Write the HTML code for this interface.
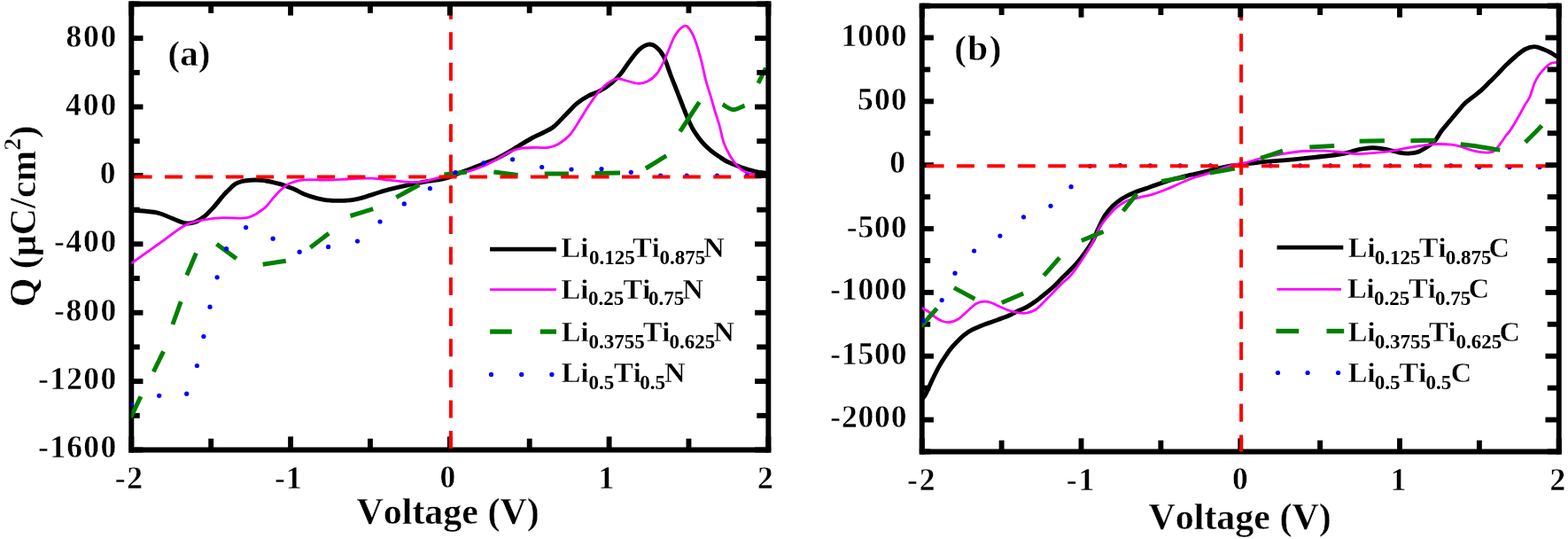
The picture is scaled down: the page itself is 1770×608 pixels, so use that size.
<!DOCTYPE html>
<html><head><meta charset="utf-8"><title>Q-V curves</title>
<style>html,body{margin:0;padding:0;background:#fff;} svg{display:block;}
text{font-family:'Liberation Serif', 'Times New Roman', serif;font-weight:bold;fill:#000;font-kerning:none;stroke:#fff;stroke-width:0.4px;}</style></head>
<body><svg width="1770" height="608" viewBox="0 0 1770 608">
<rect width="1770" height="608" fill="#fff"/>
<line x1="148.30" y1="1.50" x2="148.30" y2="510.45" stroke="#000" stroke-width="5.9"/>
<line x1="145.35" y1="507.50" x2="870.30" y2="507.50" stroke="#000" stroke-width="5.9"/>
<line x1="148.30" y1="507.50" x2="148.30" y2="492.45" stroke="#000" stroke-width="5.9"/>
<line x1="238.18" y1="507.50" x2="238.18" y2="494.75" stroke="#000" stroke-width="5.9"/>
<line x1="328.06" y1="507.50" x2="328.06" y2="492.45" stroke="#000" stroke-width="5.9"/>
<line x1="417.94" y1="507.50" x2="417.94" y2="494.75" stroke="#000" stroke-width="5.9"/>
<line x1="507.82" y1="507.50" x2="507.82" y2="492.45" stroke="#000" stroke-width="5.9"/>
<line x1="597.71" y1="507.50" x2="597.71" y2="494.75" stroke="#000" stroke-width="5.9"/>
<line x1="687.59" y1="507.50" x2="687.59" y2="492.45" stroke="#000" stroke-width="5.9"/>
<line x1="777.47" y1="507.50" x2="777.47" y2="494.75" stroke="#000" stroke-width="5.9"/>
<line x1="867.35" y1="507.50" x2="867.35" y2="492.45" stroke="#000" stroke-width="5.9"/>
<line x1="148.30" y1="507.50" x2="161.45" y2="507.50" stroke="#000" stroke-width="5.9"/>
<line x1="148.30" y1="468.80" x2="157.75" y2="468.80" stroke="#000" stroke-width="5.9"/>
<line x1="148.30" y1="430.11" x2="161.45" y2="430.11" stroke="#000" stroke-width="5.9"/>
<line x1="148.30" y1="391.41" x2="157.75" y2="391.41" stroke="#000" stroke-width="5.9"/>
<line x1="148.30" y1="352.72" x2="161.45" y2="352.72" stroke="#000" stroke-width="5.9"/>
<line x1="148.30" y1="314.02" x2="157.75" y2="314.02" stroke="#000" stroke-width="5.9"/>
<line x1="148.30" y1="275.32" x2="161.45" y2="275.32" stroke="#000" stroke-width="5.9"/>
<line x1="148.30" y1="236.63" x2="157.75" y2="236.63" stroke="#000" stroke-width="5.9"/>
<line x1="148.30" y1="197.93" x2="161.45" y2="197.93" stroke="#000" stroke-width="5.9"/>
<line x1="148.30" y1="159.23" x2="157.75" y2="159.23" stroke="#000" stroke-width="5.9"/>
<line x1="148.30" y1="120.54" x2="161.45" y2="120.54" stroke="#000" stroke-width="5.9"/>
<line x1="148.30" y1="81.84" x2="157.75" y2="81.84" stroke="#000" stroke-width="5.9"/>
<line x1="148.30" y1="43.15" x2="161.45" y2="43.15" stroke="#000" stroke-width="5.9"/>
<line x1="148.30" y1="4.45" x2="157.75" y2="4.45" stroke="#000" stroke-width="5.9"/>
<line x1="1040.75" y1="3.65" x2="1040.75" y2="512.40" stroke="#000" stroke-width="5.9"/>
<line x1="1037.80" y1="509.45" x2="1762.70" y2="509.45" stroke="#000" stroke-width="5.9"/>
<line x1="1040.75" y1="509.45" x2="1040.75" y2="494.40" stroke="#000" stroke-width="5.9"/>
<line x1="1130.62" y1="509.45" x2="1130.62" y2="496.70" stroke="#000" stroke-width="5.9"/>
<line x1="1220.50" y1="509.45" x2="1220.50" y2="494.40" stroke="#000" stroke-width="5.9"/>
<line x1="1310.38" y1="509.45" x2="1310.38" y2="496.70" stroke="#000" stroke-width="5.9"/>
<line x1="1400.25" y1="509.45" x2="1400.25" y2="494.40" stroke="#000" stroke-width="5.9"/>
<line x1="1490.12" y1="509.45" x2="1490.12" y2="496.70" stroke="#000" stroke-width="5.9"/>
<line x1="1580.00" y1="509.45" x2="1580.00" y2="494.40" stroke="#000" stroke-width="5.9"/>
<line x1="1669.88" y1="509.45" x2="1669.88" y2="496.70" stroke="#000" stroke-width="5.9"/>
<line x1="1759.75" y1="509.45" x2="1759.75" y2="494.40" stroke="#000" stroke-width="5.9"/>
<line x1="1040.75" y1="509.45" x2="1050.20" y2="509.45" stroke="#000" stroke-width="5.9"/>
<line x1="1040.75" y1="473.53" x2="1053.90" y2="473.53" stroke="#000" stroke-width="5.9"/>
<line x1="1040.75" y1="437.61" x2="1050.20" y2="437.61" stroke="#000" stroke-width="5.9"/>
<line x1="1040.75" y1="401.70" x2="1053.90" y2="401.70" stroke="#000" stroke-width="5.9"/>
<line x1="1040.75" y1="365.78" x2="1050.20" y2="365.78" stroke="#000" stroke-width="5.9"/>
<line x1="1040.75" y1="329.86" x2="1053.90" y2="329.86" stroke="#000" stroke-width="5.9"/>
<line x1="1040.75" y1="293.94" x2="1050.20" y2="293.94" stroke="#000" stroke-width="5.9"/>
<line x1="1040.75" y1="258.02" x2="1053.90" y2="258.02" stroke="#000" stroke-width="5.9"/>
<line x1="1040.75" y1="222.11" x2="1050.20" y2="222.11" stroke="#000" stroke-width="5.9"/>
<line x1="1040.75" y1="186.19" x2="1053.90" y2="186.19" stroke="#000" stroke-width="5.9"/>
<line x1="1040.75" y1="150.27" x2="1050.20" y2="150.27" stroke="#000" stroke-width="5.9"/>
<line x1="1040.75" y1="114.35" x2="1053.90" y2="114.35" stroke="#000" stroke-width="5.9"/>
<line x1="1040.75" y1="78.44" x2="1050.20" y2="78.44" stroke="#000" stroke-width="5.9"/>
<line x1="1040.75" y1="42.52" x2="1053.90" y2="42.52" stroke="#000" stroke-width="5.9"/>
<line x1="1040.75" y1="6.60" x2="1050.20" y2="6.60" stroke="#000" stroke-width="5.9"/>
<g clip-path="url(#c1)">
<path d="M148.0,237.0 C152.8,237.5 169.4,238.3 177.1,239.9 C184.8,241.5 188.8,244.3 194.2,246.3 C199.5,248.3 204.9,251.0 209.2,251.7 C213.5,252.4 216.3,251.8 219.9,250.6 C223.5,249.3 227.0,247.0 230.6,244.2 C234.2,241.3 237.7,237.4 241.3,233.5 C244.9,229.6 248.9,224.1 252.0,220.6 C255.1,217.1 257.7,214.6 260.0,212.4 C262.3,210.2 263.5,208.6 265.8,207.3 C268.1,206.0 270.9,205.1 273.8,204.4 C276.7,203.7 279.6,203.4 283.0,203.2 C286.4,203.0 291.7,203.1 294.5,203.2 C297.3,203.3 297.7,203.6 300.0,204.0 C302.3,204.4 305.5,205.0 308.2,205.6 C310.9,206.2 313.6,206.9 316.4,207.7 C319.1,208.5 321.9,209.6 324.7,210.6 C327.4,211.6 330.2,212.6 332.9,213.8 C335.6,215.0 338.4,216.8 341.1,218.0 C343.8,219.2 346.6,220.2 349.3,221.2 C352.1,222.1 354.9,223.0 357.6,223.7 C360.4,224.4 363.1,225.0 365.8,225.4 C368.5,225.8 371.3,226.0 374.0,226.2 C376.7,226.4 379.4,226.4 382.2,226.4 C384.9,226.4 387.8,226.4 390.5,226.2 C393.2,226.0 396.0,225.8 398.7,225.4 C401.4,225.0 404.2,224.4 406.9,223.7 C409.6,223.0 412.9,221.9 415.1,221.2 C417.3,220.5 417.6,220.4 420.0,219.6 C422.4,218.8 426.4,217.5 429.6,216.5 C432.9,215.5 434.6,214.8 439.5,213.6 C444.4,212.4 452.6,210.5 459.2,209.1 C465.8,207.7 472.4,206.3 479.0,205.2 C485.6,204.0 493.8,203.2 498.7,202.2 C503.6,201.2 504.1,200.9 508.6,199.3 C513.1,197.7 519.6,194.8 525.6,192.5 C531.6,190.2 538.7,187.6 544.8,185.2 C550.9,182.8 556.3,180.9 562.0,178.1 C567.7,175.3 572.8,172.2 579.1,168.5 C585.4,164.8 594.4,159.1 600.0,156.0 C605.6,152.9 608.3,152.2 612.5,150.0 C616.7,147.8 620.7,146.4 625.0,143.0 C629.3,139.6 634.1,133.9 638.5,129.5 C642.9,125.1 647.0,120.2 651.3,116.6 C655.6,113.0 659.9,110.4 664.2,108.1 C668.5,105.8 672.7,105.0 677.0,102.7 C681.3,100.4 685.9,97.4 689.8,94.2 C693.7,91.0 696.9,87.8 700.5,83.5 C704.1,79.2 707.6,73.1 711.2,68.5 C714.8,63.9 718.4,58.8 721.9,55.7 C725.4,52.6 729.1,50.6 732.2,50.1 C735.3,49.6 737.6,50.5 740.5,52.8 C743.4,55.1 746.5,58.5 749.3,63.8 C752.0,69.1 754.4,77.7 757.0,84.5 C759.6,91.3 762.6,98.6 765.0,104.8 C767.4,111.0 769.6,116.8 771.6,121.8 C773.6,126.8 775.0,130.6 776.8,134.5 C778.5,138.4 780.2,142.2 782.1,145.5 C784.0,148.8 785.9,151.6 788.0,154.5 C790.1,157.4 792.5,160.4 795.0,163.0 C797.5,165.6 800.2,168.0 803.0,170.3 C805.8,172.6 809.0,174.8 812.0,176.8 C815.0,178.8 817.1,180.5 821.2,182.5 C825.4,184.5 831.7,186.9 836.9,188.8 C842.1,190.6 847.6,192.3 852.5,193.4 C857.4,194.5 863.8,195.2 866.0,195.5" fill="none" stroke="#000" stroke-width="4.9"/>
<path d="M148.2,297.0 C153.5,293.2 169.8,281.7 180.0,274.5 C190.2,267.3 200.8,258.4 209.2,254.0 C217.6,249.6 223.5,249.4 230.6,248.0 C237.7,246.6 245.2,245.9 252.0,245.6 C258.8,245.3 266.7,246.3 271.5,246.2 C276.3,246.1 277.8,246.0 280.7,245.2 C283.6,244.4 286.6,242.7 288.8,241.5 C291.0,240.3 292.1,239.3 294.0,238.0 C295.9,236.7 297.6,236.0 300.0,233.6 C302.4,231.2 305.5,226.8 308.2,223.7 C310.9,220.5 313.6,217.3 316.4,214.7 C319.1,212.1 321.9,209.8 324.7,208.1 C327.4,206.4 330.2,205.6 332.9,204.8 C335.6,204.0 338.2,203.6 341.1,203.2 C344.0,202.8 345.7,202.6 350.0,202.6 C354.3,202.6 361.1,203.0 367.0,203.0 C372.9,203.0 380.1,202.6 385.6,202.4 C391.1,202.2 394.3,201.8 400.0,201.6 C405.7,201.4 413.1,200.9 419.7,201.2 C426.3,201.5 432.9,202.5 439.5,203.2 C446.1,203.9 454.3,204.8 459.2,205.2 C464.1,205.6 465.8,205.8 469.1,205.7 C472.4,205.6 475.7,205.3 479.0,204.7 C482.3,204.1 485.5,203.0 488.8,202.2 C492.1,201.4 495.4,200.6 498.7,199.7 C502.0,198.8 504.1,197.7 508.6,196.8 C513.1,195.9 519.6,195.7 525.6,194.2 C531.6,192.7 538.7,190.3 544.8,187.8 C550.9,185.3 557.0,181.9 562.0,179.2 C567.0,176.5 570.5,173.7 574.8,171.7 C579.1,169.7 582.6,168.3 587.6,167.4 C592.6,166.5 599.6,166.6 604.7,166.4 C609.9,166.2 614.1,167.2 618.5,166.5 C622.9,165.8 626.7,164.6 630.8,162.2 C634.9,159.8 639.4,156.5 643.2,152.3 C647.0,148.1 650.0,142.4 653.5,137.0 C657.0,131.6 660.6,125.1 664.2,119.8 C667.8,114.5 671.3,109.2 674.9,104.9 C678.5,100.6 682.0,96.9 685.6,94.2 C689.2,91.5 692.7,89.3 696.3,88.8 C699.9,88.3 703.1,90.1 707.0,91.0 C710.9,91.9 715.9,94.0 719.8,94.2 C723.7,94.4 726.9,93.8 730.5,92.0 C734.1,90.2 738.0,87.4 741.2,83.5 C744.4,79.6 746.4,75.5 749.7,68.5 C753.1,61.5 757.6,47.9 761.3,41.4 C765.0,34.9 769.1,31.0 772.0,29.6 C774.9,28.2 776.2,30.1 778.4,32.8 C780.5,35.5 782.8,40.0 784.9,45.7 C787.0,51.4 789.3,59.7 791.3,67.1 C793.2,74.5 794.9,83.3 796.6,90.0 C798.4,96.7 800.0,101.2 801.8,107.1 C803.5,113.0 805.3,119.6 807.1,125.5 C808.9,131.4 810.8,136.7 812.4,142.6 C814.0,148.5 815.0,155.4 817.0,161.0 C819.0,166.6 821.6,171.6 824.4,176.2 C827.2,180.9 830.6,185.6 833.8,188.8 C836.9,191.9 840.1,193.7 843.1,195.0 C846.1,196.3 847.9,196.2 851.7,196.6 C855.5,197.0 863.6,197.3 866.0,197.5" fill="none" stroke="#f0f" stroke-width="2.8"/>
<path d="M147.6,471.0 C149.5,467.0 157.0,451.2 158.9,447.2" fill="none" stroke="#008000" stroke-width="5"/>
<path d="M173.3,419.3 C175.2,415.4 182.6,400.2 184.5,396.3" fill="none" stroke="#008000" stroke-width="5"/>
<path d="M194.9,366.0 C196.4,361.7 202.7,344.4 204.2,340.1" fill="none" stroke="#008000" stroke-width="5"/>
<path d="M210.8,310.4 C212.6,306.2 219.6,289.7 221.4,285.5" fill="none" stroke="#008000" stroke-width="5"/>
<path d="M244.5,275.2 C248.2,278.0 263.2,289.0 266.9,291.8" fill="none" stroke="#008000" stroke-width="5"/>
<path d="M296.7,298.2 C301.0,297.5 318.4,294.9 322.7,294.2" fill="none" stroke="#008000" stroke-width="5"/>
<path d="M350.3,279.2 C353.8,276.5 367.7,266.0 371.2,263.3" fill="none" stroke="#008000" stroke-width="5"/>
<path d="M395.5,243.5 C399.8,242.2 416.9,236.9 421.2,235.6" fill="none" stroke="#008000" stroke-width="5"/>
<path d="M447.3,222.6 C451.6,220.3 468.9,210.8 473.2,208.5" fill="none" stroke="#008000" stroke-width="5"/>
<path d="M501.4,196.9 C505.7,196.5 522.6,194.5 526.9,194.1" fill="none" stroke="#008000" stroke-width="5"/>
<path d="M557.4,194.0 C561.9,194.6 580.1,197.0 584.6,197.6" fill="none" stroke="#008000" stroke-width="5"/>
<path d="M614.7,196.1 C619.2,196.1 637.5,196.1 642.0,196.1" fill="none" stroke="#008000" stroke-width="5"/>
<path d="M671.5,195.5 C676.3,195.4 695.2,195.0 700.0,194.9" fill="none" stroke="#008000" stroke-width="5"/>
<path d="M729.0,190.0 C732.9,187.6 748.3,178.1 752.2,175.7" fill="none" stroke="#008000" stroke-width="5"/>
<path d="M767.6,148.3 C771.2,142.8 785.8,120.7 789.4,115.2" fill="none" stroke="#008000" stroke-width="5"/>
<path d="M815.8,117.8 C817.8,118.8 823.5,123.5 827.6,123.7 C831.7,123.9 838.5,119.8 840.6,119.1" fill="none" stroke="#008000" stroke-width="5"/>
<path d="M855.9,93.9 C857.4,91.0 863.1,79.5 864.6,76.6" fill="none" stroke="#008000" stroke-width="5"/>
<circle cx="148.2" cy="455.9" r="2.6" fill="#00f"/>
<circle cx="179.7" cy="446.3" r="2.6" fill="#00f"/>
<circle cx="210.7" cy="444.2" r="2.6" fill="#00f"/>
<circle cx="222.4" cy="412.5" r="2.6" fill="#00f"/>
<circle cx="229.9" cy="379.5" r="2.6" fill="#00f"/>
<circle cx="237" cy="346.2" r="2.6" fill="#00f"/>
<circle cx="245.1" cy="312.8" r="2.6" fill="#00f"/>
<circle cx="255.6" cy="280.7" r="2.6" fill="#00f"/>
<circle cx="277.6" cy="256.6" r="2.6" fill="#00f"/>
<circle cx="308.1" cy="269.2" r="2.6" fill="#00f"/>
<circle cx="338.1" cy="284.2" r="2.6" fill="#00f"/>
<circle cx="370.6" cy="278.4" r="2.6" fill="#00f"/>
<circle cx="403.5" cy="272" r="2.6" fill="#00f"/>
<circle cx="429" cy="250" r="2.6" fill="#00f"/>
<circle cx="456.3" cy="229.9" r="2.6" fill="#00f"/>
<circle cx="485.4" cy="212.6" r="2.6" fill="#00f"/>
<circle cx="514" cy="194.5" r="2.6" fill="#00f"/>
<circle cx="545.9" cy="183.9" r="2.6" fill="#00f"/>
<circle cx="578.6" cy="179.8" r="2.6" fill="#00f"/>
<circle cx="611.7" cy="188.5" r="2.6" fill="#00f"/>
<circle cx="645" cy="191" r="2.6" fill="#00f"/>
<circle cx="679" cy="190.6" r="2.6" fill="#00f"/>
<circle cx="712.3" cy="194.3" r="2.6" fill="#00f"/>
<circle cx="745.6" cy="198.2" r="2.6" fill="#00f"/>
<circle cx="775.2" cy="198.2" r="2.6" fill="#00f"/>
<circle cx="809.5" cy="198.2" r="2.6" fill="#00f"/>
<circle cx="843.1" cy="198.2" r="2.6" fill="#00f"/>
<line x1="82.8" y1="199.50" x2="907.4" y2="199.50" stroke="#f00" stroke-width="4" stroke-dasharray="20 14.4"/>
<line x1="508.90" y1="1.6" x2="508.90" y2="547.5" stroke="#f00" stroke-width="4" stroke-dasharray="20.1 14.50"/>
</g>
<g clip-path="url(#c2)">
<path d="M1039.0,451.0 C1039.8,450.2 1041.9,449.9 1044.1,446.2 C1046.3,442.5 1049.6,434.2 1052.2,428.9 C1054.8,423.5 1057.1,418.6 1059.6,414.1 C1062.1,409.7 1064.5,405.9 1067.0,402.2 C1069.5,398.5 1071.4,395.4 1074.4,391.9 C1077.4,388.4 1082.0,383.7 1084.8,381.0 C1087.6,378.3 1089.1,377.2 1091.3,375.7 C1093.5,374.1 1095.7,372.9 1098.0,371.7 C1100.3,370.5 1102.8,369.6 1105.1,368.6 C1107.4,367.6 1109.3,366.8 1112.0,365.8 C1114.7,364.8 1118.3,363.6 1121.3,362.5 C1124.3,361.4 1126.9,360.6 1130.0,359.4 C1133.1,358.2 1136.6,356.9 1139.9,355.4 C1143.2,353.9 1146.4,352.1 1149.7,350.5 C1153.0,348.9 1156.3,347.8 1159.6,346.0 C1162.9,344.2 1166.2,342.0 1169.5,339.6 C1172.8,337.2 1176.0,334.5 1179.4,331.7 C1182.8,328.9 1186.9,325.7 1190.0,322.8 C1193.1,319.9 1195.3,317.2 1198.0,314.5 C1200.7,311.8 1203.1,309.7 1206.2,306.5 C1209.3,303.3 1213.1,299.6 1216.6,295.5 C1220.1,291.4 1224.0,286.1 1227.0,281.8 C1230.0,277.6 1232.3,273.9 1234.4,270.0 C1236.5,266.1 1237.4,262.8 1239.5,258.4 C1241.6,254.0 1244.4,247.7 1247.1,243.4 C1249.8,239.1 1252.5,235.9 1255.7,232.7 C1258.9,229.5 1262.5,226.7 1266.4,224.2 C1270.3,221.7 1274.6,219.8 1279.2,217.8 C1283.8,215.8 1289.2,214.2 1294.2,212.4 C1299.2,210.6 1303.8,208.9 1309.1,207.1 C1314.4,205.3 1320.6,203.3 1326.3,201.7 C1332.0,200.1 1338.1,198.7 1343.4,197.4 C1348.7,196.2 1353.0,195.4 1358.3,194.2 C1363.6,193.0 1370.2,191.2 1375.5,190.0 C1380.8,188.8 1385.4,187.8 1390.0,187.0 C1394.6,186.2 1397.0,186.2 1403.0,185.5 C1409.0,184.8 1418.3,183.4 1426.0,182.6 C1433.7,181.8 1441.3,181.6 1449.0,180.9 C1456.7,180.2 1464.3,179.4 1472.0,178.6 C1479.7,177.8 1487.3,177.2 1495.0,176.3 C1502.7,175.4 1512.2,174.1 1518.0,173.0 C1523.8,171.9 1526.3,170.5 1530.0,169.6 C1533.7,168.7 1536.6,168.1 1539.9,167.6 C1543.2,167.1 1546.4,166.7 1549.7,166.7 C1553.0,166.7 1556.3,167.1 1559.6,167.6 C1562.9,168.1 1566.2,168.8 1569.5,169.6 C1572.8,170.3 1576.1,171.5 1579.4,172.1 C1582.7,172.7 1585.8,173.2 1589.2,173.1 C1592.6,173.0 1596.4,172.8 1600.0,171.6 C1603.6,170.4 1607.5,168.0 1610.8,165.8 C1614.1,163.6 1617.2,161.6 1619.9,158.6 C1622.6,155.6 1624.4,151.4 1627.1,147.8 C1629.8,144.2 1633.2,140.5 1636.2,136.9 C1639.2,133.3 1642.2,129.6 1645.2,126.1 C1648.2,122.6 1651.2,119.0 1654.2,116.1 C1657.2,113.2 1660.3,111.3 1663.3,108.9 C1666.3,106.5 1669.3,104.3 1672.3,101.6 C1675.3,98.9 1678.4,95.6 1681.4,92.6 C1684.4,89.6 1687.3,86.8 1690.4,83.6 C1693.5,80.4 1696.6,76.9 1700.0,73.6 C1703.4,70.2 1707.4,66.5 1711.0,63.5 C1714.6,60.5 1718.1,57.3 1721.6,55.5 C1725.1,53.7 1728.6,52.6 1732.1,52.6 C1735.6,52.6 1739.7,54.8 1742.6,55.8 C1745.5,56.8 1746.7,57.4 1749.4,58.9 C1752.1,60.4 1757.4,63.6 1759.0,64.5" fill="none" stroke="#000" stroke-width="4.9"/>
<path d="M1040.0,347.1 C1041.3,347.8 1045.3,349.7 1048.0,351.5 C1050.7,353.3 1053.4,356.2 1056.0,358.0 C1058.6,359.8 1061.0,361.4 1063.6,362.3 C1066.2,363.2 1068.5,363.9 1071.5,363.5 C1074.5,363.1 1078.2,362.2 1081.7,360.0 C1085.2,357.8 1089.1,353.4 1092.5,350.5 C1095.9,347.6 1098.9,344.2 1102.0,342.5 C1105.1,340.8 1108.2,340.4 1111.0,340.2 C1113.8,340.0 1115.8,340.4 1119.0,341.5 C1122.2,342.6 1126.5,345.0 1130.0,346.5 C1133.5,348.0 1136.6,349.4 1139.9,350.5 C1143.2,351.6 1146.4,352.5 1149.7,352.9 C1153.0,353.3 1156.3,353.5 1159.6,352.9 C1162.9,352.2 1166.2,351.2 1169.5,349.0 C1172.8,346.8 1176.0,343.0 1179.4,339.6 C1182.8,336.2 1186.7,332.2 1190.0,328.8 C1193.3,325.4 1195.8,322.6 1199.0,319.5 C1202.2,316.4 1205.5,314.3 1209.2,310.0 C1212.9,305.7 1217.0,299.6 1221.0,293.7 C1225.0,287.8 1229.6,280.5 1232.9,274.4 C1236.2,268.3 1237.9,262.2 1241.0,257.0 C1244.1,251.8 1247.9,247.5 1251.4,243.4 C1254.9,239.3 1258.5,235.5 1262.1,232.7 C1265.7,229.8 1268.9,228.0 1272.8,226.3 C1276.7,224.7 1281.0,224.0 1285.6,222.8 C1290.2,221.6 1295.6,220.8 1300.6,219.3 C1305.6,217.8 1310.6,216.0 1315.6,214.0 C1320.6,212.0 1325.5,209.6 1330.5,207.5 C1335.5,205.4 1340.9,202.9 1345.5,201.2 C1350.1,199.5 1354.0,198.7 1358.3,197.4 C1362.6,196.1 1365.9,195.0 1371.2,193.2 C1376.5,191.4 1384.7,188.2 1390.0,186.7 C1395.3,185.2 1397.0,185.8 1403.0,184.3 C1409.0,182.9 1418.3,179.8 1426.0,178.0 C1433.7,176.2 1441.3,174.7 1449.0,173.4 C1456.7,172.2 1464.3,171.0 1472.0,170.5 C1479.7,170.0 1487.3,169.9 1495.0,170.2 C1502.7,170.5 1512.2,171.6 1518.0,172.2 C1523.8,172.8 1524.7,173.5 1530.0,173.6 C1535.3,173.7 1543.1,173.1 1549.7,172.6 C1556.3,172.1 1563.7,171.4 1569.5,170.6 C1575.3,169.8 1579.4,168.5 1584.3,167.6 C1589.2,166.7 1594.2,165.9 1599.1,165.2 C1604.0,164.5 1609.8,163.6 1613.9,163.2 C1618.0,162.8 1619.7,162.5 1623.8,162.5 C1627.9,162.5 1634.5,162.8 1638.6,163.2 C1642.7,163.6 1645.2,164.3 1648.5,165.2 C1651.8,166.1 1655.0,167.6 1658.3,168.6 C1661.6,169.6 1664.9,170.5 1668.2,171.1 C1671.5,171.7 1675.1,172.1 1678.1,172.1 C1681.1,172.1 1683.8,172.0 1686.0,170.8 C1688.2,169.6 1689.2,168.0 1691.5,165.0 C1693.8,162.0 1697.8,156.0 1700.0,153.0 C1702.2,150.0 1702.5,150.5 1704.8,147.0 C1707.1,143.5 1711.0,136.9 1713.7,132.2 C1716.4,127.5 1718.9,122.8 1721.1,118.9 C1723.3,115.0 1725.2,113.2 1727.0,109.0 C1728.8,104.8 1730.4,98.0 1732.1,94.0 C1733.8,90.0 1735.2,87.6 1737.0,85.0 C1738.8,82.4 1740.3,80.4 1742.6,78.2 C1744.8,76.0 1747.8,72.9 1750.5,71.6 C1753.2,70.3 1757.6,70.5 1759.0,70.3" fill="none" stroke="#f0f" stroke-width="2.8"/>
<path d="M1039.7,368.2 C1042.7,364.8 1054.6,351.2 1057.6,347.8" fill="none" stroke="#008000" stroke-width="5"/>
<path d="M1076.9,324.6 C1080.8,326.7 1096.5,335.1 1100.4,337.2" fill="none" stroke="#008000" stroke-width="5"/>
<path d="M1130.8,341.5 C1134.9,339.8 1151.1,332.7 1155.2,331.0" fill="none" stroke="#008000" stroke-width="5"/>
<path d="M1178.3,310.9 C1181.3,307.5 1193.1,294.1 1196.1,290.7" fill="none" stroke="#008000" stroke-width="5"/>
<path d="M1220.8,271.5 C1224.9,269.8 1241.5,263.0 1245.6,261.3" fill="none" stroke="#008000" stroke-width="5"/>
<path d="M1267.7,238.0 C1270.3,234.8 1280.6,222.1 1283.2,218.9" fill="none" stroke="#008000" stroke-width="5"/>
<path d="M1311.2,204.5 C1315.7,203.7 1333.8,200.6 1338.3,199.8" fill="none" stroke="#008000" stroke-width="5"/>
<path d="M1365.7,195.0 C1370.4,194.2 1389.1,190.8 1393.8,190.0" fill="none" stroke="#008000" stroke-width="5"/>
<path d="M1423.1,178.4 C1427.2,177.0 1443.9,171.5 1448.0,170.1" fill="none" stroke="#008000" stroke-width="5"/>
<path d="M1478.3,166.0 C1483.0,165.7 1501.5,164.9 1506.2,164.6" fill="none" stroke="#008000" stroke-width="5"/>
<path d="M1534.6,159.2 C1539.3,159.1 1558.2,158.9 1562.9,158.8" fill="none" stroke="#008000" stroke-width="5"/>
<path d="M1592.4,158.8 C1597.1,158.7 1615.9,158.4 1620.6,158.3" fill="none" stroke="#008000" stroke-width="5"/>
<path d="M1648.7,162.8 C1652.3,163.3 1662.6,164.4 1670.0,165.5 C1677.4,166.6 1689.4,168.6 1693.3,169.2" fill="none" stroke="#008000" stroke-width="5"/>
<path d="M1721.8,160.5 C1724.9,157.4 1737.4,144.9 1740.5,141.8" fill="none" stroke="#008000" stroke-width="5"/>
<circle cx="1041.9" cy="361.9" r="2.6" fill="#00f"/>
<circle cx="1063.2" cy="338.6" r="2.6" fill="#00f"/>
<circle cx="1078" cy="308.2" r="2.6" fill="#00f"/>
<circle cx="1099.6" cy="283" r="2.6" fill="#00f"/>
<circle cx="1128.9" cy="266.1" r="2.6" fill="#00f"/>
<circle cx="1155.5" cy="244.8" r="2.6" fill="#00f"/>
<circle cx="1186" cy="232.3" r="2.6" fill="#00f"/>
<circle cx="1209.1" cy="210.7" r="2.6" fill="#00f"/>
<circle cx="1230.4" cy="187.3" r="2.6" fill="#00f"/>
<circle cx="1264.5" cy="186.6" r="2.6" fill="#00f"/>
<circle cx="1298.4" cy="186.8" r="2.6" fill="#00f"/>
<circle cx="1332.2" cy="186.8" r="2.6" fill="#00f"/>
<circle cx="1366.3" cy="186.8" r="2.6" fill="#00f"/>
<circle cx="1400" cy="186.8" r="2.6" fill="#00f"/>
<circle cx="1434.3" cy="186.8" r="2.6" fill="#00f"/>
<circle cx="1467.7" cy="186.8" r="2.6" fill="#00f"/>
<circle cx="1501.8" cy="186.8" r="2.6" fill="#00f"/>
<circle cx="1535.9" cy="186.8" r="2.6" fill="#00f"/>
<circle cx="1569.5" cy="186.8" r="2.6" fill="#00f"/>
<circle cx="1603.5" cy="186.8" r="2.6" fill="#00f"/>
<circle cx="1637.6" cy="186.8" r="2.6" fill="#00f"/>
<circle cx="1669.7" cy="188.6" r="2.6" fill="#00f"/>
<circle cx="1704" cy="188.6" r="2.6" fill="#00f"/>
<circle cx="1738" cy="188.6" r="2.6" fill="#00f"/>
<line x1="1011.2" y1="187.25" x2="1799.8" y2="187.25" stroke="#f00" stroke-width="4" stroke-dasharray="20 14.4"/>
<line x1="1401.10" y1="3.2" x2="1401.10" y2="549.5" stroke="#f00" stroke-width="4" stroke-dasharray="20.1 14.70"/>
</g>
<line x1="145.35" y1="4.45" x2="870.30" y2="4.45" stroke="#000" stroke-width="5.9"/>
<line x1="867.35" y1="1.50" x2="867.35" y2="510.45" stroke="#000" stroke-width="5.9"/>
<line x1="148.30" y1="4.45" x2="148.30" y2="17.50" stroke="#000" stroke-width="5.9"/>
<line x1="238.18" y1="4.45" x2="238.18" y2="14.80" stroke="#000" stroke-width="5.9"/>
<line x1="328.06" y1="4.45" x2="328.06" y2="17.50" stroke="#000" stroke-width="5.9"/>
<line x1="417.94" y1="4.45" x2="417.94" y2="14.80" stroke="#000" stroke-width="5.9"/>
<line x1="507.82" y1="4.45" x2="507.82" y2="17.50" stroke="#000" stroke-width="5.9"/>
<line x1="597.71" y1="4.45" x2="597.71" y2="14.80" stroke="#000" stroke-width="5.9"/>
<line x1="687.59" y1="4.45" x2="687.59" y2="17.50" stroke="#000" stroke-width="5.9"/>
<line x1="777.47" y1="4.45" x2="777.47" y2="14.80" stroke="#000" stroke-width="5.9"/>
<line x1="867.35" y1="4.45" x2="867.35" y2="17.50" stroke="#000" stroke-width="5.9"/>
<line x1="867.35" y1="507.50" x2="852.10" y2="507.50" stroke="#000" stroke-width="5.9"/>
<line x1="867.35" y1="468.80" x2="854.30" y2="468.80" stroke="#000" stroke-width="5.9"/>
<line x1="867.35" y1="430.11" x2="852.10" y2="430.11" stroke="#000" stroke-width="5.9"/>
<line x1="867.35" y1="391.41" x2="854.30" y2="391.41" stroke="#000" stroke-width="5.9"/>
<line x1="867.35" y1="352.72" x2="852.10" y2="352.72" stroke="#000" stroke-width="5.9"/>
<line x1="867.35" y1="314.02" x2="854.30" y2="314.02" stroke="#000" stroke-width="5.9"/>
<line x1="867.35" y1="275.32" x2="852.10" y2="275.32" stroke="#000" stroke-width="5.9"/>
<line x1="867.35" y1="236.63" x2="854.30" y2="236.63" stroke="#000" stroke-width="5.9"/>
<line x1="867.35" y1="197.93" x2="852.10" y2="197.93" stroke="#000" stroke-width="5.9"/>
<line x1="867.35" y1="159.23" x2="854.30" y2="159.23" stroke="#000" stroke-width="5.9"/>
<line x1="867.35" y1="120.54" x2="852.10" y2="120.54" stroke="#000" stroke-width="5.9"/>
<line x1="867.35" y1="81.84" x2="854.30" y2="81.84" stroke="#000" stroke-width="5.9"/>
<line x1="867.35" y1="43.15" x2="852.10" y2="43.15" stroke="#000" stroke-width="5.9"/>
<line x1="867.35" y1="4.45" x2="854.30" y2="4.45" stroke="#000" stroke-width="5.9"/>
<line x1="1037.80" y1="6.60" x2="1762.70" y2="6.60" stroke="#000" stroke-width="5.9"/>
<line x1="1759.75" y1="3.65" x2="1759.75" y2="512.40" stroke="#000" stroke-width="5.9"/>
<line x1="1040.75" y1="6.60" x2="1040.75" y2="19.65" stroke="#000" stroke-width="5.9"/>
<line x1="1130.62" y1="6.60" x2="1130.62" y2="16.95" stroke="#000" stroke-width="5.9"/>
<line x1="1220.50" y1="6.60" x2="1220.50" y2="19.65" stroke="#000" stroke-width="5.9"/>
<line x1="1310.38" y1="6.60" x2="1310.38" y2="16.95" stroke="#000" stroke-width="5.9"/>
<line x1="1400.25" y1="6.60" x2="1400.25" y2="19.65" stroke="#000" stroke-width="5.9"/>
<line x1="1490.12" y1="6.60" x2="1490.12" y2="16.95" stroke="#000" stroke-width="5.9"/>
<line x1="1580.00" y1="6.60" x2="1580.00" y2="19.65" stroke="#000" stroke-width="5.9"/>
<line x1="1669.88" y1="6.60" x2="1669.88" y2="16.95" stroke="#000" stroke-width="5.9"/>
<line x1="1759.75" y1="6.60" x2="1759.75" y2="19.65" stroke="#000" stroke-width="5.9"/>
<line x1="1759.75" y1="509.45" x2="1746.70" y2="509.45" stroke="#000" stroke-width="5.9"/>
<line x1="1759.75" y1="473.53" x2="1744.50" y2="473.53" stroke="#000" stroke-width="5.9"/>
<line x1="1759.75" y1="437.61" x2="1746.70" y2="437.61" stroke="#000" stroke-width="5.9"/>
<line x1="1759.75" y1="401.70" x2="1744.50" y2="401.70" stroke="#000" stroke-width="5.9"/>
<line x1="1759.75" y1="365.78" x2="1746.70" y2="365.78" stroke="#000" stroke-width="5.9"/>
<line x1="1759.75" y1="329.86" x2="1744.50" y2="329.86" stroke="#000" stroke-width="5.9"/>
<line x1="1759.75" y1="293.94" x2="1746.70" y2="293.94" stroke="#000" stroke-width="5.9"/>
<line x1="1759.75" y1="258.02" x2="1744.50" y2="258.02" stroke="#000" stroke-width="5.9"/>
<line x1="1759.75" y1="222.11" x2="1746.70" y2="222.11" stroke="#000" stroke-width="5.9"/>
<line x1="1759.75" y1="186.19" x2="1744.50" y2="186.19" stroke="#000" stroke-width="5.9"/>
<line x1="1759.75" y1="150.27" x2="1746.70" y2="150.27" stroke="#000" stroke-width="5.9"/>
<line x1="1759.75" y1="114.35" x2="1744.50" y2="114.35" stroke="#000" stroke-width="5.9"/>
<line x1="1759.75" y1="78.44" x2="1746.70" y2="78.44" stroke="#000" stroke-width="5.9"/>
<line x1="1759.75" y1="42.52" x2="1744.50" y2="42.52" stroke="#000" stroke-width="5.9"/>
<line x1="1759.75" y1="6.60" x2="1746.70" y2="6.60" stroke="#000" stroke-width="5.9"/>
<defs><clipPath id="c1"><rect x="148.3" y="4.45" width="719.05" height="503.05"/></clipPath><clipPath id="c2"><rect x="1040.75" y="6.6" width="719.00" height="502.85"/></clipPath></defs>
<text x="74.42" y="53.35" font-size="35.5" letter-spacing="1.79">800</text>
<text x="74.01" y="130.25" font-size="35.5" letter-spacing="2.04">400</text>
<text x="112.65" y="206.95" font-size="35.5" letter-spacing="0.00">0</text>
<text x="61.10" y="283.55" font-size="35.5" letter-spacing="1.66">-400</text>
<text x="61.10" y="362.25" font-size="35.5" letter-spacing="1.66">-800</text>
<text x="43.00" y="439.25" font-size="35.5" letter-spacing="1.33">-1200</text>
<text x="43.00" y="515.95" font-size="35.5" letter-spacing="1.33">-1600</text>
<text x="129.80" y="550.90" font-size="35.5" letter-spacing="1.75">-2</text>
<text x="309.90" y="550.60" font-size="35.5" letter-spacing="1.17">-1</text>
<text x="496.45" y="550.25" font-size="35.5" letter-spacing="0.00">0</text>
<text x="675.56" y="550.60" font-size="35.5" letter-spacing="0.00">1</text>
<text x="854.91" y="550.60" font-size="35.5" letter-spacing="0.00">2</text>
<text x="949.46" y="51.75" font-size="35.5" letter-spacing="1.03">1000</text>
<text x="968.08" y="123.85" font-size="35.5" letter-spacing="1.06">500</text>
<text x="1004.35" y="194.95" font-size="35.5" letter-spacing="0.00">0</text>
<text x="955.70" y="267.55" font-size="35.5" letter-spacing="0.89">-500</text>
<text x="937.30" y="338.25" font-size="35.5" letter-spacing="0.83">-1000</text>
<text x="937.30" y="411.25" font-size="35.5" letter-spacing="0.83">-1500</text>
<text x="937.30" y="481.55" font-size="35.5" letter-spacing="0.83">-2000</text>
<text x="1023.90" y="552.75" font-size="35.5" letter-spacing="2.05">-2</text>
<text x="1203.80" y="552.60" font-size="35.5" letter-spacing="1.87">-1</text>
<text x="1391.05" y="552.25" font-size="35.5" letter-spacing="0.00">0</text>
<text x="1569.86" y="552.60" font-size="35.5" letter-spacing="0.00">1</text>
<text x="1749.41" y="552.60" font-size="35.5" letter-spacing="0.00">2</text>
<text x="505.6" y="590.7" font-size="42" text-anchor="middle" >Voltage (V)</text>
<text x="1399.6" y="596.8" font-size="42" text-anchor="middle" >Voltage (V)</text>
<text transform="translate(40,244) rotate(-90)" font-size="42" text-anchor="middle">Q (μC/cm<tspan font-size="28" dy="-17.5">2</tspan><tspan dy="17.5">)</tspan></text>
<text x="189.5" y="74.2" font-size="41" text-anchor="start" >(a)</text>
<text x="1077.2" y="68.4" font-size="41" text-anchor="start" letter-spacing="1.5">(b)</text>
<line x1="553" y1="281.1" x2="628" y2="281.1" stroke="#000" stroke-width="4.9"/>
<line x1="553" y1="326.7" x2="628" y2="326.7" stroke="#f0f" stroke-width="2.8"/>
<line x1="553.1" y1="374.1" x2="577.8" y2="374.1" stroke="#008000" stroke-width="5.3"/>
<line x1="609.8" y1="374.1" x2="628" y2="374.1" stroke="#008000" stroke-width="5.3"/>
<circle cx="554.5" cy="422.4" r="2.6" fill="#00f"/>
<circle cx="588.7" cy="422.4" r="2.6" fill="#00f"/>
<circle cx="622.9" cy="422.4" r="2.6" fill="#00f"/>
<line x1="1441.5" y1="279.1" x2="1516.3" y2="279.1" stroke="#000" stroke-width="4.9"/>
<line x1="1441.5" y1="326.4" x2="1514" y2="326.4" stroke="#f0f" stroke-width="2.8"/>
<line x1="1440.5" y1="373.5" x2="1466.2" y2="373.5" stroke="#008000" stroke-width="5.3"/>
<line x1="1497.5" y1="373.5" x2="1517.2" y2="373.5" stroke="#008000" stroke-width="5.3"/>
<circle cx="1442.5" cy="420.5" r="2.6" fill="#00f"/>
<circle cx="1476.1" cy="420.5" r="2.6" fill="#00f"/>
<circle cx="1510.6" cy="420.5" r="2.6" fill="#00f"/>
<text><tspan x="633.6" y="290.0" font-size="32.5">Li</tspan><tspan x="665.1" y="297.7" font-size="23" style="stroke:none">0.125</tspan><tspan x="714.1" y="290.0" font-size="32.5">Ti</tspan><tspan x="744.4" y="297.7" font-size="23" style="stroke:none">0.875</tspan><tspan x="794.3" y="290.0" font-size="32.5">N</tspan></text>
<text><tspan x="633.6" y="336.6" font-size="32.5">Li</tspan><tspan x="663.9" y="344.3" font-size="23" style="stroke:none">0.25</tspan><tspan x="703.6" y="336.6" font-size="32.5">Ti</tspan><tspan x="732.1" y="344.3" font-size="23" style="stroke:none">0.75</tspan><tspan x="770.6" y="336.6" font-size="32.5">N</tspan></text>
<text><tspan x="633.8" y="385.2" font-size="32.5">Li</tspan><tspan x="664.6" y="392.9" font-size="23" style="stroke:none">0.3755</tspan><tspan x="725.7" y="385.2" font-size="32.5">Ti</tspan><tspan x="755.6" y="392.9" font-size="23" style="stroke:none">0.625</tspan><tspan x="805.5" y="385.2" font-size="32.5">N</tspan></text>
<text><tspan x="633.8" y="431.1" font-size="32.5">Li</tspan><tspan x="664.6" y="438.8" font-size="23" style="stroke:none">0.5</tspan><tspan x="693.1" y="431.1" font-size="32.5">Ti</tspan><tspan x="722.3" y="438.8" font-size="23" style="stroke:none">0.5</tspan><tspan x="750.0" y="431.1" font-size="32.5">N</tspan></text>
<text><tspan x="1521.8" y="290.3" font-size="32.5">Li</tspan><tspan x="1551.8" y="298.0" font-size="23" style="stroke:none">0.125</tspan><tspan x="1601.8" y="290.3" font-size="32.5">Ti</tspan><tspan x="1631.8" y="298.0" font-size="23" style="stroke:none">0.875</tspan><tspan x="1680.6" y="290.3" font-size="32.5">C</tspan></text>
<text><tspan x="1520.9" y="336.2" font-size="32.5">Li</tspan><tspan x="1551.1" y="343.9" font-size="23" style="stroke:none">0.25</tspan><tspan x="1590.0" y="336.2" font-size="32.5">Ti</tspan><tspan x="1619.9" y="343.9" font-size="23" style="stroke:none">0.75</tspan><tspan x="1657.7" y="336.2" font-size="32.5">C</tspan></text>
<text><tspan x="1521.8" y="385.2" font-size="32.5">Li</tspan><tspan x="1551.8" y="392.9" font-size="23" style="stroke:none">0.3755</tspan><tspan x="1612.9" y="385.2" font-size="32.5">Ti</tspan><tspan x="1643.6" y="392.9" font-size="23" style="stroke:none">0.625</tspan><tspan x="1692.5" y="385.2" font-size="32.5">C</tspan></text>
<text><tspan x="1521.8" y="431.1" font-size="32.5">Li</tspan><tspan x="1551.8" y="438.8" font-size="23" style="stroke:none">0.5</tspan><tspan x="1579.6" y="431.1" font-size="32.5">Ti</tspan><tspan x="1609.6" y="438.8" font-size="23" style="stroke:none">0.5</tspan><tspan x="1637.7" y="431.1" font-size="32.5">C</tspan></text>
</svg></body></html>
